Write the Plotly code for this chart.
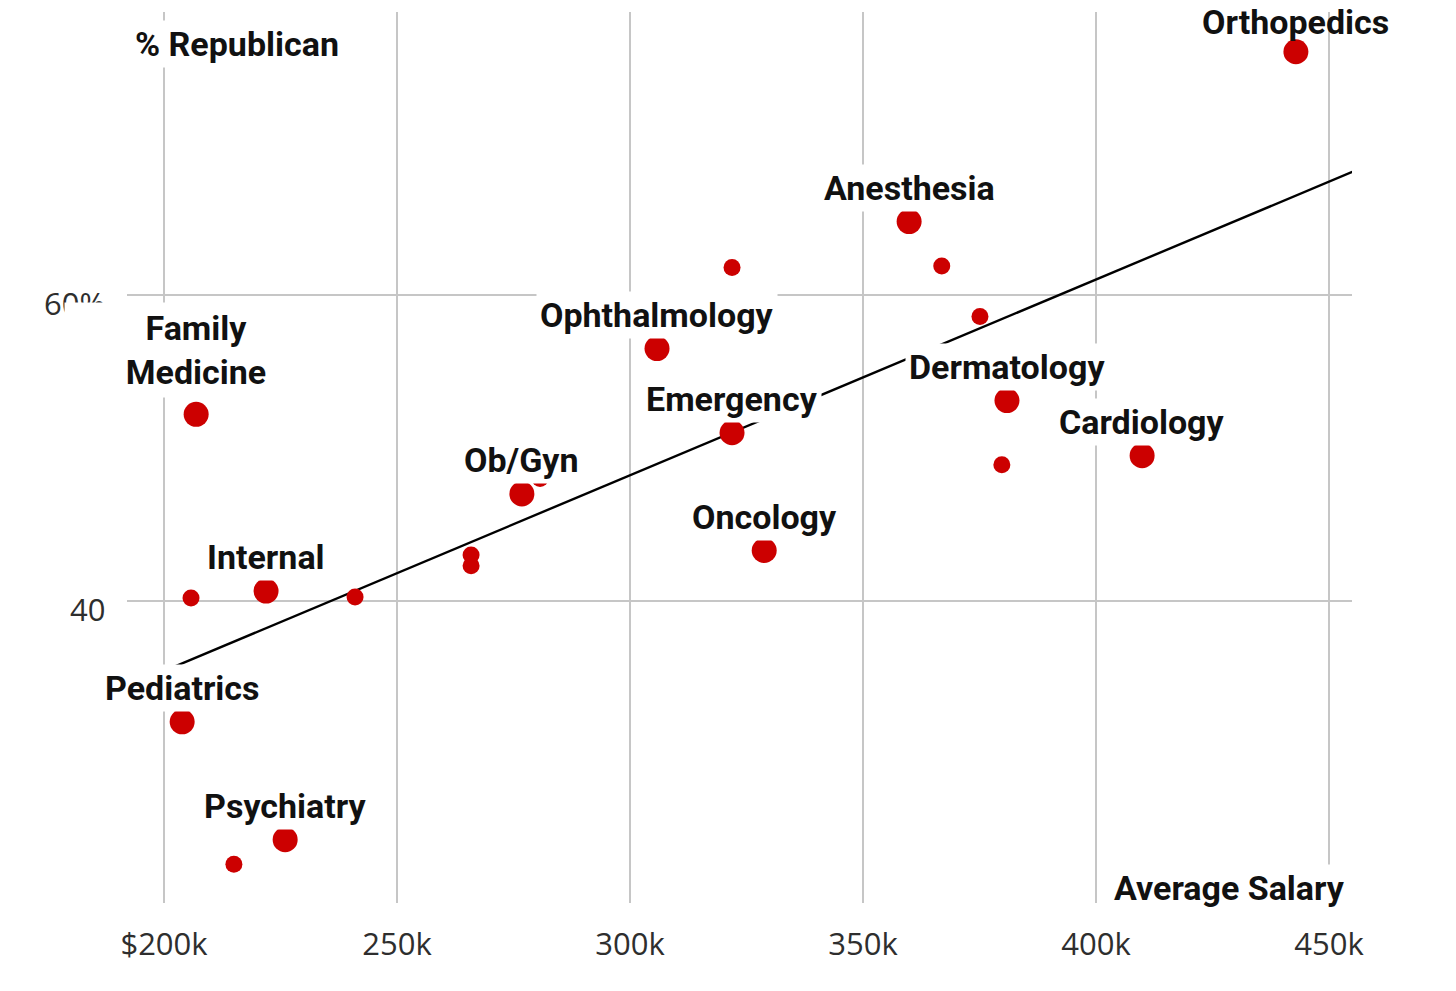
import plotly.graph_objects as go

# Labelled specialties (salary in $k, % Republican)
labels = ["Orthopedics", "Anesthesia", "Ophthalmology", "Family<br>Medicine", "Dermatology",
          "Emergency", "Cardiology", "Ob/Gyn", "Oncology", "Internal", "Pediatrics", "Psychiatry"]
label_salary = [442.9, 359.9, 305.8, 206.9, 380.9, 321.9, 409.9, 276.8, 328.8, 221.9, 203.9, 226.0]
label_rep = [75.9, 64.8, 56.5, 52.2, 53.1, 51.0, 49.5, 47.0, 43.3, 40.65, 32.1, 24.4]

# Unlabelled specialties
other_salary = [366.9, 321.9, 375.1, 379.8, 280.7, 265.9, 265.9, 205.8, 241.0, 215.0]
other_rep = [61.9, 61.8, 58.6, 48.9, 48.0, 43.0, 42.3, 40.2, 40.26, 22.8]

# Trend line endpoints
trend_salary = [192.0, 455.0]
trend_rep = [34.4, 68.05]

# Axis ticks
x_tickvals = [200, 250, 300, 350, 400, 450]
x_ticktext = ["$200k", "250k", "300k", "350k", "400k", "450k"]
y_tickvals = [40, 60]
y_ticktext = ["40", "60%"]

Y_RANGE = [20.26, 78.5]
X_RANGE = [192.06, 454.94]

RED = "#cc0000"
LABEL_FONT = dict(family="Roboto", size=34, color="#111111", weight=700)
TICK_FONT = dict(family="Open Sans", size=31, color="#2e2e2e", weight=400)

fig = go.Figure()
fig.add_trace(go.Scatter(x=trend_salary, y=trend_rep, mode="lines",
                         line=dict(color="black", width=2.4), hoverinfo="skip"))
fig.add_trace(go.Scatter(x=other_salary, y=other_rep, mode="markers",
                         marker=dict(color=RED, size=17, line=dict(width=0))))
fig.add_trace(go.Scatter(x=label_salary, y=label_rep, mode="markers",
                         marker=dict(color=RED, size=25, line=dict(width=0))))

# y tick labels (drawn first so label boxes can sit over them)
for val, txt in zip(y_tickvals, y_ticktext):
    fig.add_annotation(x=0, y=val, xref="paper", yref="y", text=txt, showarrow=False,
                       xanchor="right", yanchor="middle", xshift=-20, yshift=-8,
                       font=TICK_FONT)

for name, sx, ry in zip(labels, label_salary, label_rep):
    two = "<br>" in name
    near_top = ry > Y_RANGE[1] - 4
    ann = dict(x=sx, y=ry, xref="x", yref="y", text=name, showarrow=False,
               xanchor="center", yanchor="middle", yshift=64 if two else 34,
               font=LABEL_FONT, bgcolor="white", borderpad=3)
    if two:
        ann["width"] = 252
        ann["borderpad"] = 5
    if near_top:
        ann["borderpad"] = 0
        ann["bgcolor"] = "rgba(0,0,0,0)"
        ann["yshift"] = 30
    fig.add_annotation(**ann)

fig.add_annotation(x=0.0898, y=0.964, xref="paper", yref="paper", text="% Republican",
                   showarrow=False, xanchor="center", yanchor="middle",
                   font=LABEL_FONT, bgcolor="white", borderpad=3)
fig.add_annotation(x=0.8996, y=0.0168, xref="paper", yref="paper", text="Average Salary",
                   showarrow=False, xanchor="center", yanchor="middle",
                   font=LABEL_FONT, bgcolor="white", borderpad=3)

fig.update_xaxes(range=X_RANGE, tickvals=x_tickvals, ticktext=x_ticktext,
                 showgrid=True, gridcolor="#c6c6c6", gridwidth=1.5, zeroline=False,
                 showline=False, ticks="", ticklabelstandoff=20, tickfont=TICK_FONT)
fig.update_yaxes(range=Y_RANGE, tickvals=y_tickvals, showticklabels=False,
                 showgrid=True, gridcolor="#c6c6c6", gridwidth=1.5, zeroline=False,
                 showline=False, ticks="")

fig.update_layout(width=1456, height=991, margin=dict(l=127, r=104, t=12, b=88),
                  paper_bgcolor="white", plot_bgcolor="white", showlegend=False)

fig.write_html("out.html", config={"displayModeBar": False},
               post_script="document.body.style.margin='0';document.body.style.overflow='hidden';")
